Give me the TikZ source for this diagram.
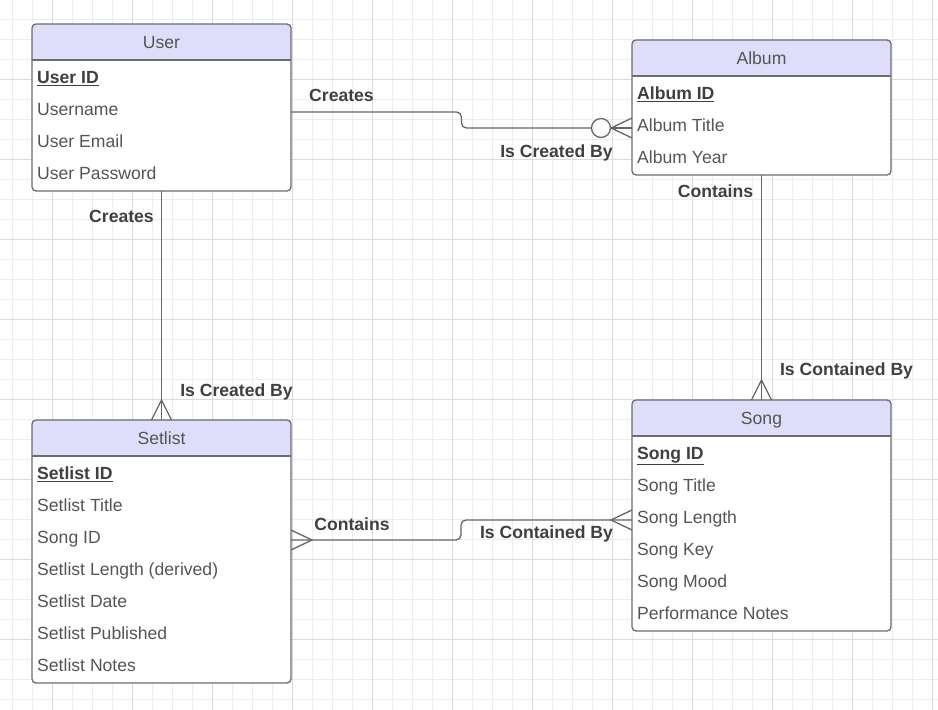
\documentclass[tikz,border=0pt]{standalone}
\usepackage{fontspec}
\setmainfont{Liberation Sans}
\usetikzlibrary{calc}
\definecolor{gridminor}{HTML}{EDEDED}
\definecolor{gridmajor}{HTML}{DADADA}
\definecolor{hdr}{HTML}{DEDEFB}
\definecolor{bordc}{HTML}{6C6C6C}
\definecolor{linec}{HTML}{666666}
\definecolor{txt}{HTML}{555555}
\definecolor{btxt}{HTML}{404040}
\begin{document}
\begin{tikzpicture}[x=1pt,y=-1pt,
  frame/.style={anchor=north west, inner sep=0pt, outer sep=0pt, minimum width=259pt},
  border/.style={draw=bordc, line width=1.3pt, rounded corners=4pt},
  sep/.style={draw=bordc, line width=1.3pt},
  title/.style={anchor=base, text=txt, inner sep=0pt, font=\fontsize{17.6}{20}\selectfont},
  row/.style={anchor=base west, text=txt, inner sep=0pt, font=\fontsize{17.6}{20}\selectfont},
  keyrow/.style={anchor=base west, text=btxt, inner sep=0pt, font=\fontsize{17.6}{20}\selectfont\bfseries},
  lbl/.style={anchor=base, text=btxt, inner sep=0pt, font=\fontsize{17.6}{20}\selectfont\bfseries},
  conn/.style={draw=linec, line width=1.3pt},
]
\useasboundingbox (0,0) rectangle (938,710);
\fill[white] (0,0) rectangle (938,710);
% grid
\foreach \i in {0,...,46} \draw[gridminor, line width=0.9pt] (12.7+20*\i,0) -- (12.7+20*\i,710);
\foreach \j in {0,...,36} \draw[gridminor, line width=0.9pt] (0,-0.7+20*\j) -- (938,-0.7+20*\j);
\foreach \i in {0,...,11} \draw[gridmajor, line width=0.9pt] (52.3+80*\i,0) -- (52.3+80*\i,710);
\foreach \j in {0,...,8} \draw[gridmajor, line width=0.9pt] (0,79.3+80*\j) -- (938,79.3+80*\j);

% ---------- User ----------
\node[frame, minimum height=167pt] (user) at (32,24) {};
\fill[white, rounded corners=4pt] (user.north west) rectangle (user.south east);
\begin{scope}
  \clip[rounded corners=4pt] (user.north west) rectangle (user.south east);
  \fill[hdr] (32,24) rectangle (291,60);
\end{scope}
\draw[sep] (32,60) -- (291,60);
\draw[border] (user.north west) rectangle (user.south east);
\node[title] (usert) at (161.5,48.5) {User};
\node[keyrow] (userid) at (37,83.5) {\underline{User ID}};
\node[row] (username) at (37,115.5) {Username};
\node[row] (useremail) at (37,147.5) {User Email};
\node[row] (userpw) at (37,179.5) {User Password};

% ---------- Album ----------
\node[frame, minimum height=135pt] (album) at (632,40) {};
\fill[white, rounded corners=4pt] (album.north west) rectangle (album.south east);
\begin{scope}
  \clip[rounded corners=4pt] (album.north west) rectangle (album.south east);
  \fill[hdr] (632,40) rectangle (891,76);
\end{scope}
\draw[sep] (632,76) -- (891,76);
\draw[border] (album.north west) rectangle (album.south east);
\node[title] (albumt) at (761.5,64.5) {Album};
\node[keyrow] (albumid) at (637,99.5) {\underline{Album ID}};
\node[row] (albumtitle) at (637,131.5) {Album Title};
\node[row] (albumyear) at (637,163.5) {Album Year};

% ---------- Setlist ----------
\node[frame, minimum height=263pt] (setlist) at (32,420) {};
\fill[white, rounded corners=4pt] (setlist.north west) rectangle (setlist.south east);
\begin{scope}
  \clip[rounded corners=4pt] (setlist.north west) rectangle (setlist.south east);
  \fill[hdr] (32,420) rectangle (291,456);
\end{scope}
\draw[sep] (32,456) -- (291,456);
\draw[border] (setlist.north west) rectangle (setlist.south east);
\node[title] (setlistt) at (161.5,444.5) {Setlist};
\node[keyrow] (setlistid) at (37,479.5) {\underline{Setlist ID}};
\node[row] (s1) at (37,511.5) {Setlist Title};
\node[row] (s2) at (37,543.5) {Song ID};
\node[row] (s3) at (37,575.5) {Setlist Length (derived)};
\node[row] (s4) at (37,607.5) {Setlist Date};
\node[row] (s5) at (37,639.5) {Setlist Published};
\node[row] (s6) at (37,671.5) {Setlist Notes};

% ---------- Song ----------
\node[frame, minimum height=231pt] (song) at (632,400) {};
\fill[white, rounded corners=4pt] (song.north west) rectangle (song.south east);
\begin{scope}
  \clip[rounded corners=4pt] (song.north west) rectangle (song.south east);
  \fill[hdr] (632,400) rectangle (891,436);
\end{scope}
\draw[sep] (632,436) -- (891,436);
\draw[border] (song.north west) rectangle (song.south east);
\node[title] (songt) at (761.5,424.5) {Song};
\node[keyrow] (songid) at (637,459.5) {\underline{Song ID}};
\node[row] (g1) at (637,491.5) {Song Title};
\node[row] (g2) at (637,523.5) {Song Length};
\node[row] (g3) at (637,555.5) {Song Key};
\node[row] (g4) at (637,587.5) {Song Mood};
\node[row] (g5) at (637,619.5) {Performance Notes};

% ---------- User -- Album ----------
\node[circle, draw=linec, line width=1.3pt, fill=white, minimum size=19pt, inner sep=0pt] (zero) at (601,128) {};
\coordinate (ua) at ($(user.north east)+(0,88)$);
\draw[conn, rounded corners=5pt] (ua) -- (461.5,112) -- (461.5,128) -- (zero.west);
\coordinate (am) at (album.west |- zero);
\draw[conn] (zero.east) -- (am);
\draw[conn] (zero.east) -- ($(am)+(0,-10)$);
\draw[conn] (zero.east) -- ($(am)+(0,10)$);
\node[lbl] (l1) at (341.5,101.5) {Creates};
\node[lbl] (l2) at (556.5,157.5) {Is Created By};

% ---------- User -- Setlist ----------
\coordinate (sa) at ($(setlist.north)+(0,-20)$);
\draw[conn] (user.south) -- (setlist.north);
\draw[conn] ($(setlist.north)+(-10,0)$) -- (sa) -- ($(setlist.north)+(10,0)$);
\node[lbl] (l3) at (121.5,222.5) {Creates};
\node[lbl] (l4) at (236.5,396.5) {Is Created By};

% ---------- Album -- Song ----------
\coordinate (ga) at ($(song.north)+(0,-20)$);
\draw[conn] (album.south) -- (song.north);
\draw[conn] ($(song.north)+(-10,0)$) -- (ga) -- ($(song.north)+(10,0)$);
\node[lbl] (l5) at (715.5,197.5) {Contains};
\node[lbl] (l6) at (846.5,375.5) {Is Contained By};

% ---------- Setlist -- Song ----------
\coordinate (ss) at ($(setlist.north east)+(0,120)$);
\coordinate (gs) at ($(song.north west)+(0,120)$);
\coordinate (ssa) at ($(ss)+(21,0)$);
\coordinate (gsa) at ($(gs)+(-21,0)$);
\draw[conn, rounded corners=5pt] (ss) -- (461,540) -- (461,520) -- (gs);
\draw[conn] ($(ss)+(0,-10)$) -- (ssa) -- ($(ss)+(0,10)$);
\draw[conn] ($(gs)+(0,-10)$) -- (gsa) -- ($(gs)+(0,10)$);
\node[lbl] (l7) at (352,530.5) {Contains};
\node[lbl] (l8) at (546.5,538.5) {Is Contained By};
\end{tikzpicture}
\end{document}
